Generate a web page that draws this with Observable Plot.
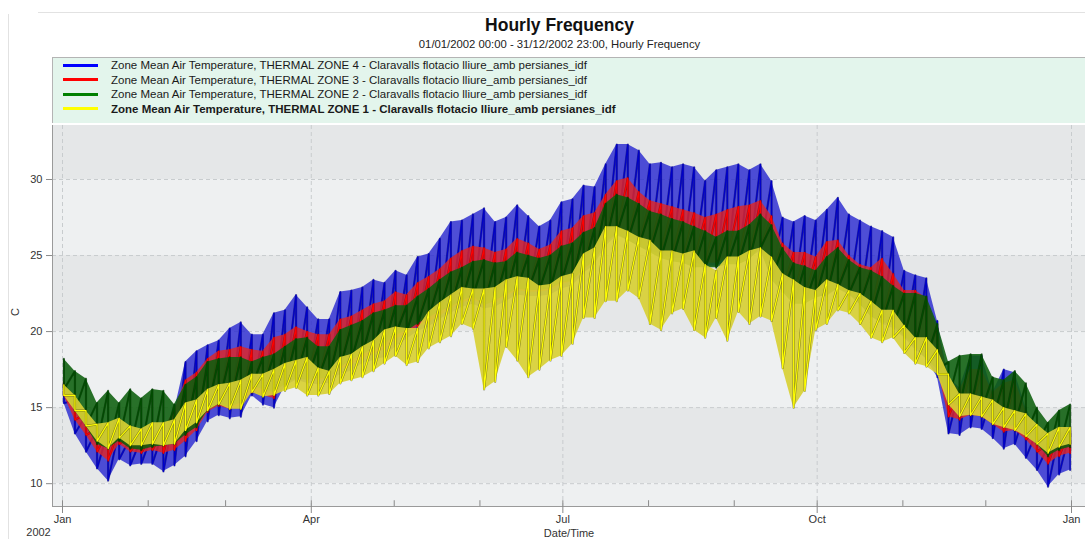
<!DOCTYPE html>
<html>
<head>
<meta charset="utf-8">
<script src="https://cdn.jsdelivr.net/npm/d3@7"></script>
<script src="https://cdn.jsdelivr.net/npm/@observablehq/plot@0.6"></script>
<style>
  body { margin: 0; background: #fff; font-family: "Liberation Sans", Arial, sans-serif; }
  #page { position: relative; width: 1085px; height: 539px; overflow: hidden; background: #fff; }
  .hline { position: absolute; left: 38px; top: 12px; width: 1047px; height: 1px; background: #e2e2e2; z-index: 3; }
  .vline { position: absolute; left: 8px; top: 14px; width: 1px; height: 525px; background: #e2e2e2; z-index: 3; }
  #title { position: absolute; left: 0; width: 1119px; top: 14px; text-align: center; font-size: 17.5px; font-weight: bold; color: #111; line-height: 22px; }
  #subtitle { position: absolute; left: 0; width: 1119px; top: 37px; text-align: center; font-size: 11.3px; color: #222; line-height: 14px; }
  #legend { position: absolute; left: 52px; top: 57px; width: 1033px; height: 66px; background: #e3f5ec; border-top: 1px solid #b4b4b4; border-left: 1px solid #b4b4b4; box-sizing: border-box; }
  .lrow { position: absolute; left: 0; height: 14px; width: 1000px; }
  .lsw { position: absolute; left: 10px; top: 5.5px; width: 35px; height: 3px; }
  .ltx { position: absolute; left: 58px; top: 0; font-size: 11.5px; line-height: 14px; color: #1a1a1a; white-space: nowrap; }
  #chart { position: absolute; left: 0; top: 123px; }
</style>
</head>
<body>
<div id="page">
  <div class="hline"></div>
  <div class="vline"></div>
  <div id="title">Hourly Frequency</div>
  <div id="subtitle">01/01/2002 00:00 - 31/12/2002 23:00, Hourly Frequency</div>
  <div id="legend"></div>
  <div id="chart"></div>
</div>
<script>
// Day of year (2002) of each sample
const sampleDays = [0,4,8,12,16,20,24,28,32,36,40,44,48,52,56,60,64,68,72,76,80,84,88,92,96,100,104,108,112,116,120,124,128,132,136,140,144,148,152,156,160,164,168,172,176,180,184,188,192,196,200,204,208,212,216,220,224,228,232,236,240,244,248,252,256,260,264,268,272,276,280,284,288,292,296,300,304,308,312,316,320,324,328,332,336,340,344,348,352,356,360,364];

// THERMAL ZONE 4 (blue): daily peak / trough, C
const zone4Max = [16.6,15.5,14.5,13.6,13.5,13.6,13.0,13.0,13.3,13.5,
  14.8,18.0,18.7,19.1,19.4,20.2,20.6,19.8,19.8,21.2,
  21.4,22.4,21.6,20.8,20.8,22.6,22.7,22.9,23.4,23.2,
  24.0,23.7,24.9,25.1,26.1,27.2,27.3,27.7,28.1,27.2,
  27.5,28.3,27.6,26.9,27.3,28.5,28.7,29.6,29.5,31.0,
  32.3,32.3,31.9,31.0,31.1,30.8,31.0,30.8,29.9,30.6,
  30.8,31.0,30.6,31.0,29.9,27.5,27.2,27.6,27.3,28.0,
  28.8,27.7,27.3,26.9,26.6,26.2,24.0,23.7,23.5,20.7,
  17.0,16.3,18.4,18.4,16.0,17.5,17.3,15.0,13.5,12.5,
  13.3,13.5];
const zone4Min = [15.3,13.3,12.1,11.0,10.2,11.6,11.2,11.3,11.3,10.8,
  11.2,11.8,12.8,14.1,14.5,14.3,14.4,15.8,15.2,15.0,
  16.4,16.8,16.6,16.5,16.6,17.2,17.4,17.9,18.1,18.3,
  19.0,19.5,20.0,20.3,20.8,21.2,21.6,21.8,21.5,21.6,
  22.0,22.4,22.3,22.3,22.4,22.8,23.0,23.8,24.4,25.6,
  26.3,26.0,25.6,25.3,25.1,24.8,24.8,24.6,24.3,24.3,
  24.6,24.6,24.8,25.3,23.6,22.6,22.2,22.0,22.3,22.3,
  22.8,22.4,21.8,21.0,20.5,20.2,19.6,18.8,18.2,17.0,
  13.3,13.2,13.7,13.6,13.0,12.3,12.6,11.7,10.9,9.8,
  10.6,10.9];

// THERMAL ZONE 3 (red)
const zone3Max = [16.7,15.6,14.6,13.6,13.5,13.7,13.1,13.1,13.4,13.6,
  14.8,16.8,17.3,18.2,18.7,18.8,19.0,18.8,18.7,19.6,
  19.8,20.3,20.0,19.8,19.8,20.8,21.0,21.4,21.8,22.0,
  22.6,22.4,23.2,23.6,24.1,24.8,25.3,25.6,25.5,25.2,
  25.4,26.1,25.8,25.4,25.7,26.6,26.8,27.6,27.8,29.0,
  29.9,30.1,29.2,28.6,28.4,28.2,28.0,27.8,27.5,27.7,
  28.0,28.2,28.3,28.6,27.6,25.8,25.2,25.2,24.9,25.9,
  26.0,25.0,24.4,24.2,24.8,23.8,22.7,22.7,22.2,20.2,
  16.9,16.2,17.5,17.5,16.0,16.6,16.8,14.8,13.5,12.6,
  13.3,13.5];
const zone3Min = [15.8,14.2,13.2,12.1,11.5,12.6,12.1,12.0,12.2,12.0,
  12.2,12.8,13.5,14.7,15.1,14.9,15.1,16.0,15.8,15.6,
  16.7,17.1,16.9,16.8,16.9,17.5,17.8,18.2,18.5,18.8,
  19.5,19.8,20.3,20.6,21.0,21.5,21.9,22.1,21.8,21.9,
  22.3,22.7,22.6,22.6,22.7,23.1,23.3,24.0,24.6,25.8,
  26.5,26.2,25.8,25.5,25.3,25.0,25.0,24.8,24.5,24.5,
  24.8,24.8,25.0,25.5,23.9,22.8,22.4,22.3,22.5,22.5,
  23.0,22.6,22.0,21.2,20.8,20.5,19.8,19.0,18.4,17.6,
  14.4,14.2,14.5,14.4,13.9,13.4,13.5,12.9,12.1,11.3,
  11.8,12.0];

// THERMAL ZONE 2 (green)
const zone2Max = [18.2,17.4,16.9,15.3,16.1,15.3,16.2,15.6,16.2,16.1,
  15.2,16.5,17.0,18.0,18.2,18.3,18.3,18.0,18.3,18.5,
  19.0,19.5,19.6,19.0,19.0,20.1,20.4,20.7,21.2,21.4,
  21.7,21.7,22.3,22.8,23.4,23.9,24.2,24.6,24.7,24.5,
  24.6,25.2,25.0,24.8,25.0,25.6,25.8,26.5,26.8,28.4,
  29.0,28.8,28.4,27.9,27.7,27.4,27.2,26.9,26.6,26.2,
  26.6,26.6,27.0,27.7,27.0,25.5,24.5,24.3,24.0,24.9,
  25.5,24.7,24.2,24.0,23.6,23.0,22.5,22.5,22.3,20.5,
  18.0,18.4,18.5,18.5,17.0,16.8,17.4,16.6,15.0,14.0,
  14.8,15.2];
const zone2Min = [16.2,14.8,13.8,12.6,12.3,12.8,12.3,12.2,12.4,12.5,
  12.6,13.2,13.7,14.8,15.2,15.0,15.3,16.4,16.2,16.0,
  16.5,16.9,16.8,16.9,16.9,17.6,18.1,18.5,18.8,19.1,
  19.8,20.0,20.5,20.9,21.3,21.6,22.0,22.3,21.7,22.0,
  22.4,22.8,22.7,22.7,22.8,23.2,23.3,24.1,24.6,25.8,
  26.4,26.0,25.6,25.2,24.8,24.6,24.5,24.2,24.2,24.2,
  24.4,24.4,24.7,25.5,23.4,22.6,21.8,21.8,22.2,22.4,
  22.8,22.5,21.8,21.0,20.6,20.4,19.7,19.0,18.2,17.5,
  15.5,15.0,14.9,14.8,14.2,13.8,13.8,13.2,12.6,11.8,
  12.2,12.4];

// THERMAL ZONE 1 (yellow)
const zone1Max = [16.5,15.8,14.8,13.9,14.0,14.3,13.8,13.6,14.0,14.0,
  14.2,15.3,15.5,16.2,16.5,16.6,16.8,17.2,17.2,17.5,
  17.9,18.1,18.3,17.6,17.4,18.3,18.5,19.0,19.4,20.1,
  20.3,20.2,20.2,21.3,21.9,22.4,22.9,22.8,22.8,22.9,
  23.4,23.6,23.5,23.0,23.1,23.6,23.8,25.1,25.5,26.9,
  26.9,26.6,26.2,26.0,25.3,25.3,25.1,25.3,24.4,24.0,
  24.9,24.9,25.3,25.5,24.9,23.8,23.4,22.9,22.7,23.4,
  23.1,22.7,22.5,22.0,21.4,21.4,20.4,19.6,19.6,18.8,
  17.2,15.9,15.9,15.7,15.5,15.0,14.8,14.6,13.9,13.3,
  13.7,13.7];
const zone1Min = [15.8,14.8,13.8,12.8,12.3,13.0,12.5,12.5,12.6,12.5,
  12.6,13.5,14.0,14.8,15.2,14.9,14.9,16.0,15.7,15.8,
  16.1,16.3,15.8,15.8,15.9,16.6,16.8,17.0,17.4,17.9,
  18.4,17.8,18.0,18.9,19.3,19.7,20.5,20.2,16.2,16.7,
  19.0,18.1,17.0,17.5,18.1,18.4,19.2,20.9,20.9,22.0,
  22.0,22.7,22.2,20.5,20.1,21.2,21.5,20.1,19.6,20.9,
  19.4,21.3,20.5,21.0,20.7,17.6,15.0,16.1,20.1,20.5,
  21.4,21.2,20.5,19.6,19.3,19.6,18.6,17.9,17.7,17.2,
  15.2,14.4,14.5,14.4,13.9,13.7,13.5,13.1,12.6,12.0,
  12.4,12.6];

const seriesNames = [
  "Zone Mean Air Temperature, THERMAL ZONE 4 - Claravalls flotacio lliure_amb persianes_idf",
  "Zone Mean Air Temperature, THERMAL ZONE 3 - Claravalls flotacio lliure_amb persianes_idf",
  "Zone Mean Air Temperature, THERMAL ZONE 2 - Claravalls flotacio lliure_amb persianes_idf",
  "Zone Mean Air Temperature, THERMAL ZONE 1 - Claravalls flotacio lliure_amb persianes_idf"
];
const seriesColors = ["#0000ff", "#ff0000", "#008000", "#ffff00"];
const areaColors = ["#2626d0", "#e02424", "#0c5e0c", "#d8d034"];
const areaOpacity = [0.8, 0.82, 0.88, 0.92];
const lineColors = ["#0000c8", "#ff0000", "#004c00", "#ffff00"];
const edgeColors = ["#00006a", "#7a0000", "#002800", "#3e3c08"];

const yTicks = [10, 15, 20, 25, 30];
const quarterMonths = [0, 3, 6, 9, 12];
const quarterLabels = ["Jan", "Apr", "Jul", "Oct", "Jan"];
const yearLabel = "2002";
const xTitle = "Date/Time";
const yTitle = "C";

// ---------- legend ----------
const legend = document.getElementById("legend");
const rowCenters = [7, 21.5, 36, 50.5];
seriesNames.forEach((n, i) => {
  const row = document.createElement("div");
  row.className = "lrow";
  row.style.top = (rowCenters[i] - 7) + "px";
  const sw = document.createElement("div");
  sw.className = "lsw";
  sw.style.background = seriesColors[i];
  const tx = document.createElement("div");
  tx.className = "ltx";
  tx.textContent = n;
  if (i === 3) tx.style.fontWeight = "bold";
  row.appendChild(sw); row.appendChild(tx);
  legend.appendChild(row);
});

// ---------- chart ----------
const t0 = Date.UTC(2002, 0, 1);
const toDate = d => new Date(t0 + (d + 0.5) * 864e5);
const maxes = [zone4Max, zone3Max, zone2Max, zone1Max];
const mins = [zone4Min, zone3Min, zone2Min, zone1Min];
const seriesRows = maxes.map((mx, s) => sampleDays.map((d, i) => ({date: toDate(d), max: mx[i], min: mins[s][i]})));
// peak then trough of each sampled day, in order -> sawtooth trace
const seriesTrace = seriesRows.map(rows => rows.flatMap(r => [{date: r.date, v: r.max}, {date: r.date, v: r.min}]));

const yDomain = [8.5, 33.55];
const edges = [yDomain[0], ...yTicks, yDomain[1]];
const bands = edges.slice(0, -1).map((lo, i) => ({lo, hi: edges[i + 1], dark: (i % 2) === 1}));
const quarterDates = quarterMonths.map(m => new Date(Date.UTC(2002, m, 1)));
const monthDates = d3.range(13).map(m => new Date(Date.UTC(2002, m, 1)));
const labelOf = new Map(quarterDates.map((d, i) => [+d, quarterLabels[i]]));

const seriesMarks = [];
for (let s = 0; s < 4; s++) {
  seriesMarks.push(Plot.areaY(seriesRows[s], {x: "date", y1: "min", y2: "max", fill: areaColors[s], fillOpacity: areaOpacity[s], curve: "linear"}));
  seriesMarks.push(Plot.line(seriesTrace[s], {x: "date", y: "v", stroke: edgeColors[s], strokeWidth: 2.2, strokeOpacity: 0.55, curve: "linear"}));
  seriesMarks.push(Plot.line(seriesTrace[s], {x: "date", y: "v", stroke: lineColors[s], strokeWidth: 1.2, curve: "linear"}));
}

const chart = Plot.plot({
  width: 1085,
  height: 416,
  marginLeft: 52,
  marginRight: 0,
  marginTop: 2,
  marginBottom: 33,
  style: {fontFamily: '"Liberation Sans", Arial, sans-serif', background: "#ffffff", color: "#333"},
  x: {type: "utc", domain: [new Date(t0), new Date(Date.UTC(2003, 0, 1))], insetLeft: 10, insetRight: 14, axis: null},
  y: {domain: yDomain, axis: null},
  marks: [
    Plot.rect(bands.filter(b => b.dark), {y1: "lo", y2: "hi", fill: "#e5e7e8"}),
    Plot.rect(bands.filter(b => !b.dark), {y1: "lo", y2: "hi", fill: "#eef0f1"}),
    Plot.gridY(yTicks, {stroke: "#c8ccce", strokeOpacity: 1, strokeDasharray: "4,3"}),
    Plot.gridX(quarterDates, {stroke: "#c8ccce", strokeOpacity: 1, strokeDasharray: "4,3"}),
    ...seriesMarks,
    Plot.ruleY([yDomain[0]], {stroke: "#9a9a9a"}),
    Plot.ruleX([new Date(t0)], {dx: -10, stroke: "#9a9a9a"}),
    Plot.ruleX(monthDates, {y1: yDomain[0], y2: yDomain[0] + 0.38, stroke: "#8a8a8a"}),
    Plot.axisY(yTicks, {tickSize: 6, tickPadding: 4, fontSize: 11, stroke: "#8a8a8a", fill: "#333"}),
    Plot.axisX(quarterDates, {tickSize: 7, tickPadding: 2, fontSize: 11, stroke: "#8a8a8a", fill: "#333", tickFormat: d => labelOf.get(+d)}),
    Plot.text([yTitle], {frameAnchor: "left", dx: -37, rotate: -90, fontSize: 11, fill: "#333"}),
    Plot.text([xTitle], {frameAnchor: "bottom", dy: 30, fontSize: 11, fill: "#333"}),
    Plot.text([yearLabel], {frameAnchor: "bottom-left", dx: -14, dy: 29, textAnchor: "middle", fontSize: 11, fill: "#333"})
  ]
});
document.getElementById("chart").appendChild(chart);
</script>
</body>
</html>
